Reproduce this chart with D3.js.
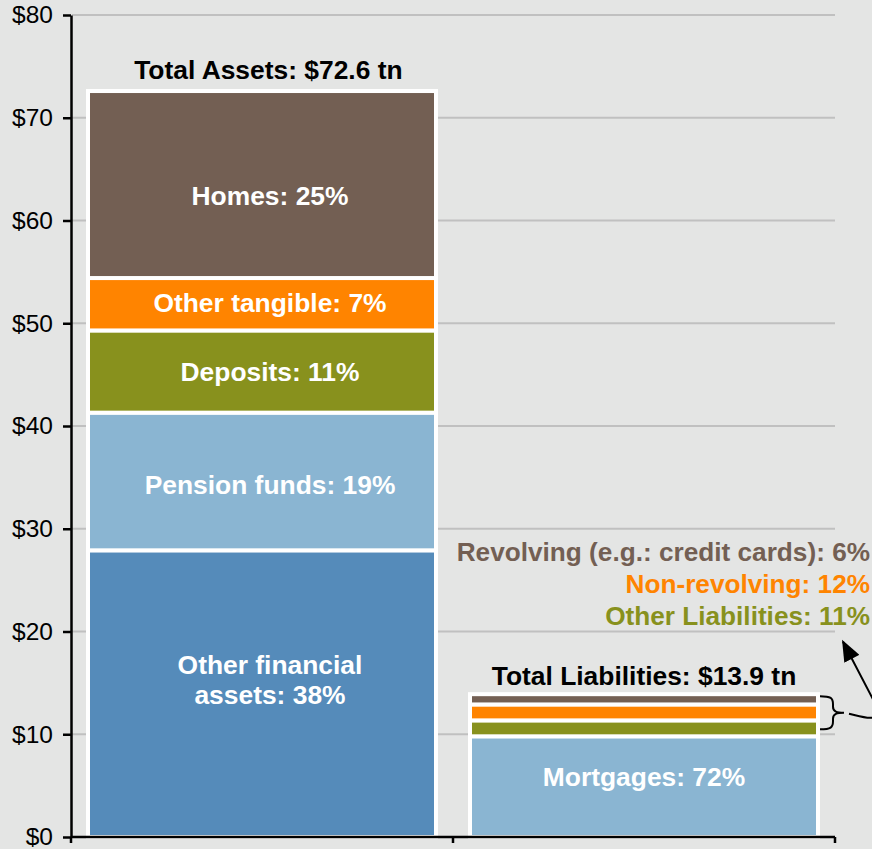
<!DOCTYPE html>
<html>
<head>
<meta charset="utf-8">
<script src="https://cdn.jsdelivr.net/npm/d3@7"></script>
<style>
  html, body { margin: 0; padding: 0; background: #E4E5E4; }
  svg { display: block; }
  text { font-family: "Liberation Sans", Arial, sans-serif; }
</style>
</head>
<body>
<svg id="chart" width="872" height="849"></svg>
<script>
// ---------------- DATA ----------------
const categories = ["Assets", "Liabilities"];
const totals = [72.6, 13.9];
const totalLabels = ["Total Assets: $72.6 tn", "Total Liabilities: $13.9 tn"];

const assetSeries = ["Other financial assets", "Pension funds", "Deposits", "Other tangible", "Homes"];
const assetValues = [27.9, 13.4, 8.0, 5.1, 18.2];
const assetLabels = [["Other financial", "assets: 38%"], ["Pension funds: 19%"], ["Deposits: 11%"], ["Other tangible: 7%"], ["Homes: 25%"]];

const liabSeries = ["Mortgages", "Other Liabilities", "Non-revolving", "Revolving"];
const liabValues = [9.8, 1.55, 1.55, 1.0];
const liabLabels = [["Mortgages: 72%"], [], [], []];
const liabLegend = ["Revolving (e.g.: credit cards): 6%", "Non-revolving: 12%", "Other Liabilities: 11%"];
const liabLegendSeries = ["Revolving", "Non-revolving", "Other Liabilities"];

const yTicks = [0, 10, 20, 30, 40, 50, 60, 70, 80];

// ---------------- STYLE / LAYOUT ----------------
const colors = {
  "Other financial assets": "#558BBA",
  "Pension funds": "#8AB5D2",
  "Deposits": "#88911D",
  "Other tangible": "#FF8400",
  "Homes": "#735F53",
  "Mortgages": "#8AB5D2",
  "Other Liabilities": "#88911D",
  "Non-revolving": "#FF8400",
  "Revolving": "#735F53"
};
// small vertical nudges of in-bar labels (px), and horizontal shift per bar
const labelNudge = {"Homes": 11, "Other tangible": -1, "Deposits": 0, "Pension funds": 3, "Other financial assets": -14, "Mortgages": -10};
const barLabelDx = {"Assets": 8, "Liabilities": 0};

const W = 872, H = 849;
const svg = d3.select("#chart");
svg.append("rect").attr("width", W).attr("height", H).attr("fill", "#E4E5E4");

const y = d3.scaleLinear().domain([0, 80]).range([837, 15]);
const x = d3.scaleBand().domain(categories).range([71, 835]).paddingInner(0.089).paddingOuter(0.0445);

// gridlines
svg.append("g").selectAll("line").data(yTicks.filter(d => d > 0)).join("line")
  .attr("x1", 72).attr("x2", 835)
  .attr("y1", d => y(d)).attr("y2", d => y(d))
  .attr("stroke", "#C0C0C0").attr("stroke-width", 2);

// stacks
function stackOf(series, values, labels) {
  let acc = 0;
  return series.map((s, i) => {
    const o = {name: s, y0: acc, y1: acc + values[i], label: labels[i]};
    acc += values[i];
    return o;
  });
}
const stacks = {
  "Assets": stackOf(assetSeries, assetValues, assetLabels),
  "Liabilities": stackOf(liabSeries, liabValues, liabLabels)
};

const bw = x.bandwidth();
categories.forEach(cat => {
  const g = svg.append("g");
  g.selectAll("rect").data(stacks[cat]).join("rect")
    .attr("x", x(cat))
    .attr("width", bw)
    .attr("y", d => y(d.y1))
    .attr("height", d => y(d.y0) - y(d.y1))
    .attr("fill", d => colors[d.name])
    .attr("stroke", "#FFFFFF")
    .attr("stroke-width", 4);

  // in-bar labels
  stacks[cat].forEach(d => {
    if (!d.label || d.label.length === 0) return;
    const cy = (y(d.y0) + y(d.y1)) / 2 + (labelNudge[d.name] || 0);
    const n = d.label.length;
    const lh = 30.6;
    const t = g.append("text")
      .attr("x", x(cat) + bw / 2 + barLabelDx[cat])
      .attr("text-anchor", "middle")
      .attr("fill", "#FFFFFF")
      .attr("font-weight", "bold")
      .attr("font-size", "26.4px");
    d.label.forEach((line, i) => {
      t.append("tspan")
        .attr("x", x(cat) + bw / 2 + barLabelDx[cat])
        .attr("y", cy + (i - (n - 1) / 2) * lh + 9.2)
        .text(line);
    });
  });
});

// totals
svg.append("g").selectAll("text").data(categories).join("text")
  .attr("x", (d) => x(d) + bw / 2 + barLabelDx[d] * 0.8)
  .attr("y", (d, i) => y(totals[i]) - (i === 0 ? 12 : 9))
  .attr("text-anchor", "middle")
  .attr("font-weight", "bold")
  .attr("font-size", "26.4px")
  .attr("fill", "#000000")
  .text((d, i) => totalLabels[i]);

// y axis
const yAxis = d3.axisLeft(y).tickValues(yTicks).tickFormat(d => "$" + d).tickSize(8).tickSizeOuter(0).tickPadding(10);
const ya = svg.append("g").attr("transform", "translate(71,0)").call(yAxis);
ya.select(".domain").attr("stroke", "#000").attr("stroke-width", 2.5);
ya.selectAll(".tick line").attr("stroke", "#000").attr("stroke-width", 2.5);
ya.selectAll(".tick text").attr("fill", "#000").attr("font-size", "24.5px")
  .attr("font-family", "'Liberation Sans', Arial, sans-serif");

// x axis (ticks between categories)
const step = x.step();
const xEdges = [x.range()[0], x(categories[1]) - x.paddingInner() * step / 2, x.range()[1]];
const xa = svg.append("g");
xa.append("line").attr("x1", x.range()[0]).attr("x2", x.range()[1])
  .attr("y1", y(0)).attr("y2", y(0)).attr("stroke", "#000").attr("stroke-width", 2.5);
xa.selectAll("line.tk").data(xEdges).join("line").attr("class", "tk")
  .attr("x1", d => d).attr("x2", d => d)
  .attr("y1", y(0)).attr("y2", y(0) + 6)
  .attr("stroke", "#000").attr("stroke-width", 2.5);

// external legend for small liability segments
svg.append("g").selectAll("text").data(liabLegend).join("text")
  .attr("x", 870)
  .attr("y", (d, i) => 561 + i * 31.8)
  .attr("text-anchor", "end")
  .attr("font-weight", "bold")
  .attr("font-size", "26.2px")
  .attr("fill", (d, i) => colors[liabLegendSeries[i]])
  .text(d => d);

// brace + arrow
const bx = x("Liabilities") + bw + 2;
const bTop = y(totals[1]) + 2;
const bBot = y(liabValues[0]) - 7;
const bMid = (bTop + bBot) / 2;
const brace = `M${bx},${bTop} C${bx + 11},${bTop} ${bx + 13},${bTop + 2} ${bx + 13},${bTop + 8}
  L${bx + 13},${bMid - 6} C${bx + 13},${bMid - 1} ${bx + 17},${bMid} ${bx + 24},${bMid}
  C${bx + 17},${bMid} ${bx + 13},${bMid + 1} ${bx + 13},${bMid + 6}
  L${bx + 13},${bBot - 8} C${bx + 13},${bBot - 2} ${bx + 11},${bBot} ${bx},${bBot}`;
svg.append("path").attr("d", brace).attr("fill", "none").attr("stroke", "#000").attr("stroke-width", 2);

const defs = svg.append("defs");
defs.append("marker").attr("id", "arrow")
  .attr("viewBox", "0 -8 20 16").attr("refX", 18).attr("refY", 0)
  .attr("markerWidth", 22).attr("markerHeight", 17)
  .attr("markerUnits", "userSpaceOnUse").attr("orient", "auto")
  .append("path").attr("d", "M0,-8 L20,0 L0,8 Z").attr("fill", "#000");

svg.append("path")
  .attr("d", `M${bx + 29},${bMid + 1} C${bx + 42},${bMid + 4} ${bx + 56},${bMid + 9} ${bx + 60},${bMid}
     L${bx + 23},${bMid - 71}`)
  .attr("fill", "none").attr("stroke", "#000").attr("stroke-width", 2)
  .attr("marker-end", "url(#arrow)");
</script>
</body>
</html>
